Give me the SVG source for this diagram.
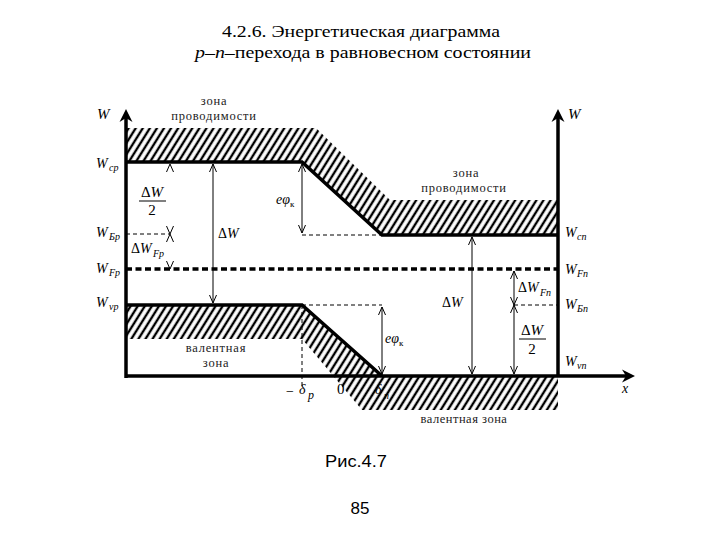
<svg xmlns="http://www.w3.org/2000/svg" width="720" height="540" viewBox="0 0 720 540">
<style>
.t{font-family:"Liberation Serif",serif;fill:#000}
.ti{font-family:"Liberation Serif",serif;font-style:italic;fill:#000}
.z{font-family:"Liberation Serif",serif;font-size:12.5px;fill:#222;text-anchor:middle;letter-spacing:0.8px}
.band{fill:none;stroke:#000;stroke-width:3.5}
.thin{fill:none;stroke:#000;stroke-width:1}
.dash{fill:none;stroke:#000;stroke-width:1;stroke-dasharray:4 3}
.arr{fill:none;stroke:#000;stroke-width:1;marker-start:url(#a);marker-end:url(#a)}
.ghost{fill:none;stroke:none;marker-start:url(#a);marker-end:url(#a)}
</style>
<defs>
<pattern id="h" patternUnits="userSpaceOnUse" width="6" height="6" patternTransform="rotate(32)">
<line x1="3" y1="-1" x2="3" y2="7" stroke="#000" stroke-width="2.4"/>
</pattern>
<marker id="a" markerUnits="userSpaceOnUse" markerWidth="12" markerHeight="12" refX="0" refY="0" orient="auto-start-reverse" style="overflow:visible">
<path d="M-8,-3.5 L0,0 L-8,3.5" fill="none" stroke="#000" stroke-width="1"/>
</marker>
</defs>
<rect width="720" height="540" fill="#fff"/>

<g id="title">
<text class="t" x="222" y="37" font-size="17" textLength="278" lengthAdjust="spacingAndGlyphs">4.2.6. Энергетическая диаграмма</text>
<text class="t" x="195" y="58" font-size="17" textLength="336" lengthAdjust="spacingAndGlyphs"><tspan font-style="italic">p</tspan>–<tspan font-style="italic">n</tspan>–перехода в равновесном состоянии</text>
</g>

<g id="conduction-band">
<polygon points="126,128 316,128 390,200 558,200 558,235 382,235 302,162 126,162" fill="url(#h)"/>
<path class="band" d="M126,162 H302 L382,235 H558"/>
<text class="z" x="214" y="105">зона</text>
<text class="z" x="214" y="120">проводимости</text>
<text class="z" x="466" y="177">зона</text>
<text class="z" x="464" y="192">проводимости</text>
</g>

<g id="valence-band">
<polygon points="126,305 302,305 382,376 558,376 558,410 362,410 302,339 126,339" fill="url(#h)"/>
<path class="band" d="M126,305 H302 L382,376"/>
<text class="z" x="216" y="352">валентная</text>
<text class="z" x="216" y="367">зона</text>
<text class="z" x="464" y="423" style="letter-spacing:0.5px">валентная зона</text>
</g>

<g id="fermi-level">
<path d="M126,269 H558" fill="none" stroke="#000" stroke-width="3.5" stroke-dasharray="6 3.5"/>
</g>

<g id="axes">
<path class="band" d="M126,378 V116"/>
<path d="M126,109 L132.5,122 L126,118 L119.5,122 Z" fill="#000"/>
<path class="band" d="M558,376 V116"/>
<path d="M558,109 L564.5,122 L558,118 L551.5,122 Z" fill="#000"/>
<path class="band" d="M126,376 H628"/>
<path d="M635,376 L622,369.5 L626,376 L622,382.5 Z" fill="#000"/>
<text class="ti" x="97" y="119" font-size="15">W</text>
<text class="ti" x="568" y="119" font-size="15">W</text>
<text class="ti" x="622" y="393" font-size="14">x</text>
</g>

<g id="connectors">
<path class="dash" d="M126,234 H170"/>
<path class="dash" d="M302,235 H382"/>
<path class="dash" d="M302,305 H382"/>
<path class="dash" d="M302,305 V388"/>
<path class="dash" d="M514,305 H558"/>
<path class="arr" d="M213,164 V303"/>
<path class="arr" d="M302,164 V233"/>
<path class="arr" d="M382,307 V374"/>
<path class="arr" d="M472,237 V374"/>
<path class="arr" d="M514,271 V305"/>
<path class="arr" d="M514,305 V374"/>
<path class="ghost" d="M170,164 V234"/>
<path class="ghost" d="M170,234 V269"/>
</g>

<g id="labels-left">
<text class="ti" x="96" y="168" font-size="14">W</text><text class="ti" x="109" y="171" font-size="10">ср</text>
<text class="ti" x="96" y="237" font-size="14">W</text><text class="ti" x="109" y="240" font-size="10">Бр</text>
<text class="ti" x="96" y="273" font-size="14">W</text><text class="ti" x="109" y="276" font-size="10">Fр</text>
<text class="ti" x="96" y="307" font-size="14">W</text><text class="ti" x="109" y="310" font-size="10">vр</text>
<text class="ti" x="152" y="197" font-size="15" text-anchor="middle"><tspan font-style="normal">Δ</tspan>W</text>
<path class="thin" d="M139,201 H166"/>
<text class="t" x="152" y="215" font-size="15" text-anchor="middle">2</text>
<text class="ti" x="131" y="253" font-size="14"><tspan font-style="normal">Δ</tspan>W</text><text class="ti" x="153" y="257" font-size="10">Fр</text>
<text class="ti" x="218" y="238" font-size="14"><tspan font-style="normal">Δ</tspan>W</text>
<text class="ti" x="276" y="204" font-size="14">eφ</text><text class="t" x="290" y="207" font-size="9">к</text>
<text class="ti" x="385" y="343" font-size="14">eφ</text><text class="t" x="399" y="346" font-size="9">к</text>
</g>

<g id="labels-right">
<text class="ti" x="565" y="237" font-size="14">W</text><text class="ti" x="577" y="240" font-size="10">cn</text>
<text class="ti" x="565" y="274" font-size="14">W</text><text class="ti" x="577" y="277" font-size="10">Fn</text>
<text class="ti" x="565" y="309" font-size="14">W</text><text class="ti" x="577" y="312" font-size="10">Бn</text>
<text class="ti" x="565" y="366" font-size="14">W</text><text class="ti" x="577" y="369" font-size="10">vn</text>
<text class="ti" x="518" y="292" font-size="14"><tspan font-style="normal">Δ</tspan>W</text><text class="ti" x="540" y="296" font-size="10">Fn</text>
<text class="ti" x="532" y="335" font-size="15" text-anchor="middle"><tspan font-style="normal">Δ</tspan>W</text>
<path class="thin" d="M519,339 H546"/>
<text class="t" x="532" y="354" font-size="15" text-anchor="middle">2</text>
<text class="ti" x="442" y="307" font-size="14"><tspan font-style="normal">Δ</tspan>W</text>
</g>

<g id="labels-bottom">
<text class="t" x="286" y="396" font-size="14">−</text>
<text class="ti" x="299" y="394" font-size="14">δ</text><text class="ti" x="308" y="399" font-size="12">p</text>
<text class="t" x="337" y="394" font-size="15">0</text>
<text class="ti" x="375" y="394" font-size="14">δ</text><text class="ti" x="384" y="399" font-size="10">n</text>
</g>

<g id="caption">
<text x="325" y="467" font-family="Liberation Sans, sans-serif" font-size="17" textLength="62" lengthAdjust="spacingAndGlyphs">Рис.4.7</text>
<text x="360" y="514" font-family="Liberation Sans, sans-serif" font-size="17" text-anchor="middle">85</text>
</g>
</svg>
